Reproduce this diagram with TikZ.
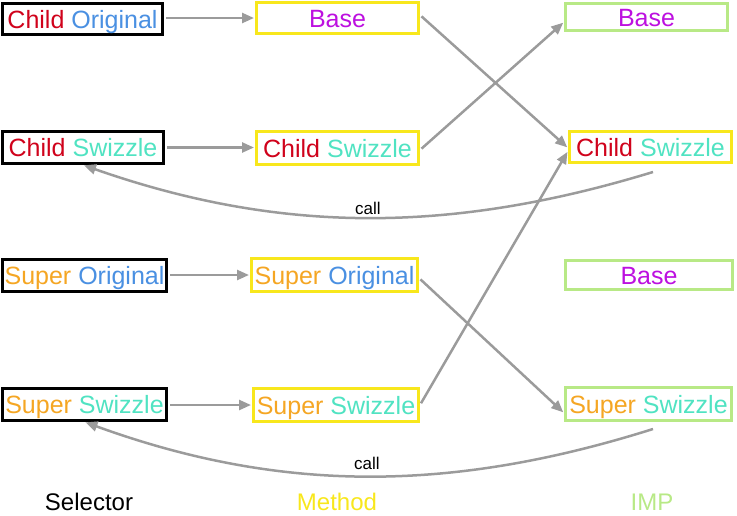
\documentclass[tikz,border=0pt]{standalone}
\usepackage{fontspec}
\setmainfont{Liberation Sans}
\usetikzlibrary{arrows.meta}
\definecolor{cred}{HTML}{D0021B}
\definecolor{cblue}{HTML}{4A90E2}
\definecolor{cteal}{HTML}{50E3C2}
\definecolor{corange}{HTML}{F5A623}
\definecolor{cmag}{HTML}{BD10E0}
\definecolor{cyel}{HTML}{F8E71C}
\definecolor{cgreen}{HTML}{B8E986}
\definecolor{cgray}{HTML}{9B9B9B}
\begin{document}
\begin{tikzpicture}[x=1pt,y=-1pt,
  box/.style={draw, line width=3pt, fill=white, inner sep=0pt,
    font=\fontsize{25}{30}\selectfont, text height=18pt, text depth=0pt},
  selbox/.style={box, draw=black},
  methbox/.style={box, draw=cyel},
  impbox/.style={box, draw=cgreen},
  conn/.style={draw=cgray, line width=2.5pt, -{Triangle[length=12pt,width=10pt]},
    shorten <=2pt, shorten >=1pt},
  calllabel/.style={font=\fontsize{17}{20}\selectfont, inner sep=0pt},
  footlabel/.style={font=\fontsize{24}{28}\selectfont, inner sep=0pt, anchor=base}]
\useasboundingbox (0,0) rectangle (737,515);

% Selector column
\node[selbox, minimum width=160pt, minimum height=31pt] (s1) at (82.5,19) {\textcolor{cred}{Child} \textcolor{cblue}{Original}};
\node[selbox, minimum width=161pt, minimum height=32pt] (s2) at (83,147.5) {\textcolor{cred}{Child} \textcolor{cteal}{Swizzle}};
\node[selbox, minimum width=164pt, minimum height=32pt] (s3) at (84.5,275.5) {\textcolor{corange}{Super} \textcolor{cblue}{Original}};
\node[selbox, minimum width=164pt, minimum height=32pt] (s4) at (84.5,404.5) {\textcolor{corange}{Super} \textcolor{cteal}{Swizzle}};

% Method column
\node[methbox, minimum width=162pt, minimum height=31pt] (m1) at (337.5,18) {\textcolor{cmag}{Base}};
\node[methbox, minimum width=162pt, minimum height=33pt] (m2) at (337.5,148) {\textcolor{cred}{Child} \textcolor{cteal}{Swizzle}};
\node[methbox, minimum width=166pt, minimum height=33pt] (m3) at (334.5,275) {\textcolor{corange}{Super} \textcolor{cblue}{Original}};
\node[methbox, minimum width=165pt, minimum height=33pt] (m4) at (336,405) {\textcolor{corange}{Super} \textcolor{cteal}{Swizzle}};

% IMP column
\node[impbox, minimum width=162pt, minimum height=27pt] (i1) at (646.5,17) {\textcolor{cmag}{Base}};
\node[impbox, draw=cyel, minimum width=162pt, minimum height=31pt] (i2) at (650.5,147) {\textcolor{cred}{Child} \textcolor{cteal}{Swizzle}};
\node[impbox, minimum width=167pt, minimum height=29pt] (i3) at (649,275) {\textcolor{cmag}{Base}};
\node[impbox, minimum width=166pt, minimum height=33pt] (i4) at (648.5,404) {\textcolor{corange}{Super} \textcolor{cteal}{Swizzle}};

% Selector -> Method
\draw[conn] (s1.east |- m1.west) -- (m1.west);
\draw[conn] (s2.east) -- (s2.east -| m2.west);
\draw[conn] (s3.east |- m3.west) -- (m3.west);
\draw[conn] (s4.east |- m4.west) -- (m4.west);

% Method -> IMP
\draw[conn] ([yshift=3pt]m1.east) -- ([yshift=-1pt]i2.west);
\draw[conn] ([yshift=-2pt]m2.east) -- ([yshift=-5pt]i1.west);
\draw[conn] ([yshift=-3pt]m3.east) -- ([yshift=-9pt]i4.west);
\draw[conn] (m4.east) -- ([yshift=-4pt]i2.west);

% call curves
\coordinate (c1) at (653,172);
\coordinate (c2) at (653,429);
\draw[conn, shorten <=0pt] (c1) .. controls (450,234) and (280,234) .. (s2.south);
\draw[conn, shorten <=0pt] (c2) .. controls (450,493) and (280,493) .. (s4.south);
\node[calllabel] (l1) at (368,208) {call};
\node[calllabel] (l2) at (367,463) {call};

% footer labels
\node[footlabel] (f1) at (89,510) {Selector};
\node[footlabel, text=cyel] (f2) at (337,510) {Method};
\node[footlabel, text=cgreen] (f3) at (652,510) {IMP};
\end{tikzpicture}
\end{document}
